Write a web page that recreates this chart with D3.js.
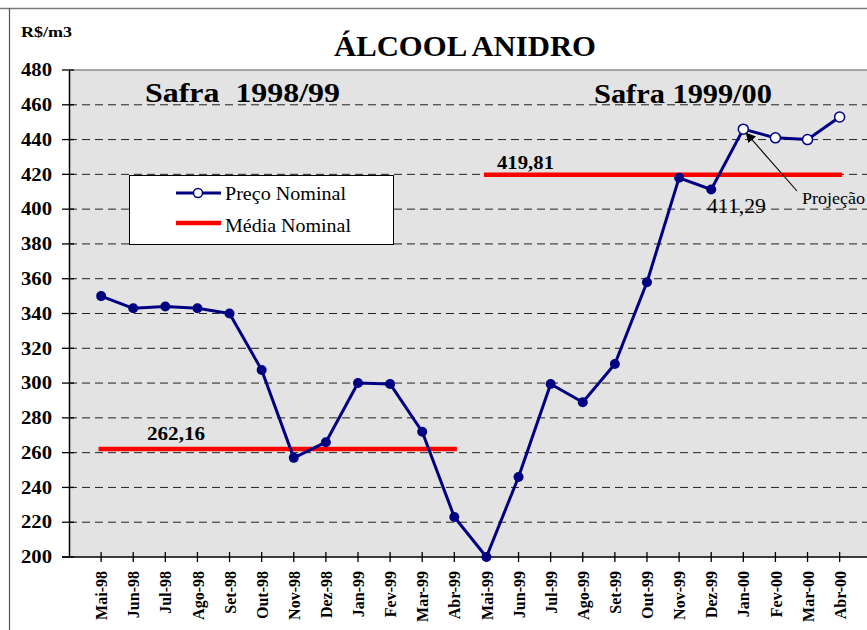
<!DOCTYPE html>
<html><head><meta charset="utf-8">
<script src="https://cdn.jsdelivr.net/npm/d3@7"></script>
<style>
html,body{margin:0;padding:0;background:#fff;}
svg{display:block;font-family:"Liberation Serif","Times New Roman",serif;}
</style></head>
<body><svg id="c" width="867" height="630"></svg>
<script>
const months = ["Mai-98","Jun-98","Jul-98","Ago-98","Set-98","Out-98","Nov-98","Dez-98","Jan-99","Fev-99","Mar-99","Abr-99",
                "Mai-99","Jun-99","Jul-99","Ago-99","Set-99","Out-99","Nov-99","Dez-99","Jan-00","Fev-00","Mar-00","Abr-00"];
const precoNominal = [350,343,344,343,340,307.5,257,266,300,299.5,272,223,
                      200,246,299.5,289,311,358,418,411.29,446,441,440,453];
const projecao = [false,false,false,false,false,false,false,false,false,false,false,false,
                  false,false,false,false,false,false,false,false,true,true,true,true];
const safras = ["Safra  1998/99","Safra 1999/00"];
const mediaNominal = [262.16, 419.81];
const mediaLabels = ["262,16","419,81"];
const mediaStart = [0, 12];
const mediaEnd = [11, 23];
const yTicks = [200,220,240,260,280,300,320,340,360,380,400,420,440,460,480];

const svg = d3.select("#c");
const SERIF = "Liberation Serif, Times New Roman, serif";
const L = 69, T = 70, B = 557;
const x = d3.scaleLinear().domain([-1, 24]).range([L, L + 25*32.11]);
const y = d3.scaleLinear().domain([200, 480]).range([B, T]);

function txt(sel){ return sel.attr("font-family",SERIF).attr("fill","#000"); }

// outer frame
svg.append("line").attr("x1",0).attr("x2",867).attr("y1",8.5).attr("y2",8.5).attr("stroke","#7a7a7a").attr("stroke-width",1.5);
svg.append("line").attr("x1",9.5).attr("x2",9.5).attr("y1",8).attr("y2",630).attr("stroke","#555").attr("stroke-width",1.2);

// plot bg
svg.append("rect").attr("x",L).attr("y",T).attr("width",867-L).attr("height",B-T).attr("fill","#e3e3e3");
svg.append("line").attr("x1",L).attr("x2",867).attr("y1",T).attr("y2",T).attr("stroke","#8a8a8a").attr("stroke-width",1.5);

// grid
svg.append("g").selectAll("line").data(yTicks.filter(d=>d>200 && d<480)).join("line")
  .attr("x1",L).attr("x2",867).attr("y1",d=>y(d)).attr("y2",d=>y(d))
  .attr("stroke","#222").attr("stroke-width",1).attr("stroke-dasharray","8,5");

// y axis
const ya = svg.append("g").attr("transform",`translate(${L},0)`)
  .call(d3.axisLeft(y).tickValues(yTicks).tickSize(0).tickPadding(17));
ya.select(".domain").attr("stroke","#000").attr("stroke-width",1.5);
ya.selectAll("text").attr("font-family",SERIF).attr("font-weight","bold").attr("font-size",18).attr("fill","#000")
  .attr("textLength",31).attr("lengthAdjust","spacingAndGlyphs");
svg.append("g").selectAll("line").data(yTicks).join("line")
  .attr("x1",L-7).attr("x2",L+5).attr("y1",d=>y(d)).attr("y2",d=>y(d)).attr("stroke","#000").attr("stroke-width",1.3);

// x axis
const xa = svg.append("g").attr("transform",`translate(0,${B})`)
  .call(d3.axisBottom(x).tickValues(d3.range(months.length)).tickFormat(i=>months[i]).tickSize(0));
xa.select(".domain").remove();
svg.append("line").attr("x1",L-7).attr("x2",867).attr("y1",B).attr("y2",B).attr("stroke","#000").attr("stroke-width",1.5);
svg.append("g").selectAll("line").data(d3.range(months.length)).join("line")
  .attr("x1",d=>x(d)).attr("x2",d=>x(d)).attr("y1",B-5).attr("y2",B+5).attr("stroke","#000").attr("stroke-width",1.3);
xa.selectAll("text")
  .attr("font-family",SERIF).attr("font-weight","bold").attr("font-size",16).attr("fill","#000")
  .attr("text-anchor","end").attr("transform","rotate(-90)").attr("x",-14).attr("y",0).attr("dy","0.35em");

// mean lines
mediaNominal.forEach((m,i)=>{
  svg.append("line").attr("x1",x(mediaStart[i]-0.08)).attr("x2",x(mediaEnd[i]+0.08))
    .attr("y1",y(m)).attr("y2",y(m)).attr("stroke","#ff0000").attr("stroke-width",4.5);
});
txt(svg.append("text")).attr("x",147).attr("y",y(mediaNominal[0])-9)
  .attr("font-weight","bold").attr("font-size",19).attr("textLength",58).attr("lengthAdjust","spacingAndGlyphs").text(mediaLabels[0]);
txt(svg.append("text")).attr("x",497).attr("y",y(mediaNominal[1])-6)
  .attr("font-weight","bold").attr("font-size",19).attr("textLength",57).attr("lengthAdjust","spacingAndGlyphs").text(mediaLabels[1]);

// series line
const line = d3.line().x((d,i)=>x(i)).y(d=>y(d));
svg.append("path").datum(precoNominal).attr("d",line).attr("fill","none").attr("stroke","#000080").attr("stroke-width",3).attr("stroke-linejoin","round");
svg.append("g").selectAll("circle").data(precoNominal).join("circle")
  .attr("cx",(d,i)=>x(i)).attr("cy",d=>y(d)).attr("r",5)
  .attr("fill",(d,i)=>projecao[i]?"#fff":"#000080").attr("stroke","#000080").attr("stroke-width",(d,i)=>projecao[i]?1.5:0);

// value label Dez-99
txt(svg.append("text")).attr("x",707).attr("y",y(precoNominal[19])+23)
  .attr("font-size",20).attr("textLength",59).attr("lengthAdjust","spacingAndGlyphs").text("411,29");

// Projeção arrow
const defs = svg.append("defs");
defs.append("marker").attr("id","ah").attr("viewBox","0 0 10 10").attr("refX",9).attr("refY",5)
  .attr("markerWidth",10).attr("markerHeight",10).attr("markerUnits","userSpaceOnUse").attr("orient","auto")
  .append("path").attr("d","M0,0 L10,5 L0,10 z").attr("fill","#000");
svg.append("line").attr("x1",797).attr("y1",191).attr("x2",x(20)+3).attr("y2",y(precoNominal[20])+4)
  .attr("stroke","#000").attr("stroke-width",1.1).attr("marker-end","url(#ah)");
txt(svg.append("text")).attr("x",802).attr("y",204).attr("font-size",17)
  .attr("textLength",63).attr("lengthAdjust","spacingAndGlyphs").text("Projeção");

// safra labels
txt(svg.append("text")).attr("x",145).attr("y",102).attr("font-weight","bold").attr("font-size",28)
  .style("white-space","pre").attr("xml:space","preserve")
  .attr("textLength",195).attr("lengthAdjust","spacingAndGlyphs").text(safras[0]);
txt(svg.append("text")).attr("x",594).attr("y",103).attr("font-weight","bold").attr("font-size",28)
  .attr("textLength",178).attr("lengthAdjust","spacingAndGlyphs").text(safras[1]);

// title
txt(svg.append("text")).attr("x",334).attr("y",56).attr("font-weight","bold").attr("font-size",29)
  .attr("textLength",262).attr("lengthAdjust","spacingAndGlyphs").text("ÁLCOOL ANIDRO");
txt(svg.append("text")).attr("x",21).attr("y",37).attr("font-weight","bold").attr("font-size",15)
  .attr("textLength",51).attr("lengthAdjust","spacingAndGlyphs").text("R$/m3");

// legend
const lg = svg.append("g");
lg.append("rect").attr("x",129.5).attr("y",175.5).attr("width",264).attr("height",69).attr("fill","#fff").attr("stroke","#000").attr("stroke-width",1);
lg.append("line").attr("x1",176).attr("x2",221).attr("y1",193).attr("y2",193).attr("stroke","#000080").attr("stroke-width",3);
lg.append("circle").attr("cx",198).attr("cy",193).attr("r",4.5).attr("fill","#fff").attr("stroke","#000080").attr("stroke-width",1.5);
txt(lg.append("text")).attr("x",225).attr("y",200).attr("font-size",18)
  .attr("textLength",121).attr("lengthAdjust","spacingAndGlyphs").text("Preço Nominal");
lg.append("line").attr("x1",176).attr("x2",221).attr("y1",223).attr("y2",223).attr("stroke","#ff0000").attr("stroke-width",4.5);
txt(lg.append("text")).attr("x",225).attr("y",232).attr("font-size",18)
  .attr("textLength",126).attr("lengthAdjust","spacingAndGlyphs").text("Média Nominal");
</script></body></html>
